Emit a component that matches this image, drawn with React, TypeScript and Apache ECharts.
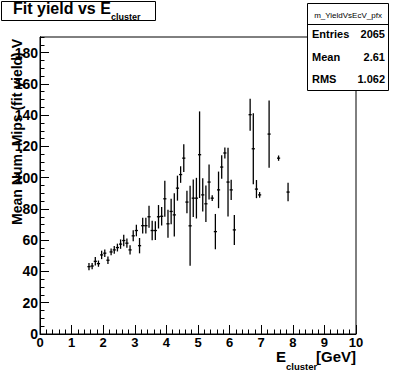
import React, { useEffect, useRef } from "react";
import * as echarts from "echarts";

const binCenters = [
  1.55, 1.65, 1.75, 1.85, 1.95, 2.05, 2.15, 2.25, 2.35, 2.45, 2.55, 2.65, 2.75, 2.85, 2.95, 3.05,
  3.15, 3.25, 3.35, 3.45, 3.55, 3.65, 3.75, 3.85, 3.95, 4.05, 4.15, 4.25, 4.35, 4.45, 4.55, 4.65,
  4.75, 4.85, 4.95, 5.05, 5.15, 5.25, 5.35, 5.45, 5.55, 5.65, 5.75, 5.85, 5.95, 6.05, 6.15,
  6.65, 6.75, 6.85, 6.95, 7.25, 7.55, 7.85,
];
const meanValues = [
  43.1, 43.5, 46.5, 45.0, 50.6, 51.7, 47.2, 52.5, 53.8, 55.3, 57.5, 59.8, 58.1, 53.8, 62.8, 66.2,
  56.5, 69.3, 69.3, 75.0, 66.2, 66.2, 75.0, 75.3, 86.5, 70.5, 78.4, 76.2, 93.3, 102.0, 112.5, 84.4,
  69.2, 86.9, 86.9, 114.7, 89.0, 83.3, 97.2, 86.9, 65.5, 92.2, 106.8, 115.8, 97.2, 92.2, 66.6,
  140.3, 118.5, 92.7, 89.0, 127.9, 112.5, 90.8,
];
const meanErrors = [
  2.3, 2.0, 2.7, 2.0, 2.7, 2.4, 2.4, 2.2, 2.5, 2.5, 3.0, 3.7, 3.0, 3.0, 3.5, 3.7,
  4.9, 5.0, 5.0, 7.0, 6.3, 6.0, 7.5, 5.9, 11.5, 9.0, 8.2, 13.9, 8.0, 5.3, 8.9, 7.2,
  25.6, 12.0, 13.0, 27.7, 10.7, 11.7, 11.2, 1.8, 11.3, 11.7, 7.5, 3.5, 22.0, 6.4, 9.6,
  10.2, 22.7, 5.8, 1.8, 21.5, 1.7, 5.9,
];
const binHalfWidth = 0.05;

const statNames = ["Entries", "Mean", "RMS"];
const statValues = ["2065", "2.61", "1.062"];

const FONT = "'Liberation Sans', Arial, Helvetica, sans-serif";

export default function App() {
  const ref = useRef<HTMLDivElement>(null);
  useEffect(() => {
    if (!ref.current) return;
    const chart = echarts.init(ref.current, null, { renderer: "svg" });
    const data = binCenters.map((x, i) => [x, meanValues[i], meanErrors[i]]);

    const statRows: any[] = [];
    statNames.forEach((n, i) => {
      const cy = 34 + i * 22.7;
      statRows.push({
        type: "text",
        z: 101,
        x: 312,
        y: cy,
        style: { text: n, font: `bold 11px ${FONT}`, fill: "#000", align: "left", verticalAlign: "middle" },
      });
      statRows.push({
        type: "text",
        z: 101,
        x: 385,
        y: cy,
        style: { text: statValues[i], font: `bold 11px ${FONT}`, fill: "#000", align: "right", verticalAlign: "middle" },
      });
    });

    const option: any = {
      animation: false,
      backgroundColor: "#fff",
      grid: {
        left: 40,
        right: 40,
        top: 37,
        bottom: 38,
        show: true,
        borderColor: "#000",
        borderWidth: 1,
        backgroundColor: "transparent",
      },
      xAxis: {
        type: "value",
        min: 0,
        max: 10,
        interval: 1,
        axisLine: { show: true, lineStyle: { color: "#000", width: 1 } },
        axisTick: { show: true, inside: true, length: 9, lineStyle: { color: "#000" } },
        minorTick: { show: true, splitNumber: 5, length: 4.5, lineStyle: { color: "#000" } },
        splitLine: { show: false },
        axisLabel: { color: "#000", fontFamily: FONT, fontWeight: "bold", fontSize: 13, margin: 2 },
      },
      yAxis: [
        {
          type: "value",
          min: 0,
          max: 190,
          interval: 20,
          position: "left",
          axisLine: { show: true, lineStyle: { color: "#000", width: 1 } },
          axisTick: { show: true, inside: true, length: 9, lineStyle: { color: "#000" } },
          splitLine: { show: false },
          axisLabel: {
            color: "#000",
            fontFamily: FONT,
            fontWeight: "bold",
            fontSize: 14,
            margin: 2,
            showMaxLabel: false,
          },
        },
        {
          type: "value",
          min: 0,
          max: 190,
          interval: 5,
          position: "left",
          offset: 0,
          axisLine: { show: true, lineStyle: { color: "#000", width: 1 } },
          axisTick: { show: true, inside: true, length: 4.5, lineStyle: { color: "#000" } },
          splitLine: { show: false },
          axisLabel: { show: false },
        },
      ],
      series: [
        {
          type: "custom",
          xAxisIndex: 0,
          yAxisIndex: 0,
          data,
          renderItem: (params: any, api: any) => {
            const x = api.value(0);
            const y = api.value(1);
            const e = api.value(2);
            const c = api.coord([x, y]);
            const l = api.coord([x - binHalfWidth, y]);
            const r = api.coord([x + binHalfWidth, y]);
            const t = api.coord([x, y + e]);
            const b = api.coord([x, y - e]);
            return {
              type: "group",
              children: [
                {
                  type: "line",
                  shape: { x1: l[0], y1: c[1], x2: r[0], y2: c[1] },
                  style: { stroke: "#000", lineWidth: 1.3 },
                },
                {
                  type: "line",
                  shape: { x1: c[0], y1: t[1], x2: c[0], y2: b[1] },
                  style: { stroke: "#000", lineWidth: 1.3 },
                },
              ],
            };
          },
        },
      ],
      graphic: [
        // title box
        {
          type: "rect",
          z: 100,
          shape: { x: 1.5, y: 1.5, width: 154, height: 19 },
          style: { fill: "#fff", stroke: "#000", lineWidth: 1 },
        },
        {
          type: "text",
          z: 101,
          x: 13,
          y: 8.5,
          style: { text: "Fit yield vs E", font: `bold 16px ${FONT}`, fill: "#000", align: "left", verticalAlign: "middle" },
        },
        {
          type: "text",
          z: 101,
          x: 111,
          y: 16.5,
          style: { text: "cluster", font: `bold 9px ${FONT}`, fill: "#000", align: "left", verticalAlign: "middle" },
        },
        // stat box
        {
          type: "rect",
          z: 100,
          shape: { x: 307.5, y: 3.5, width: 81, height: 87 },
          style: { fill: "#fff", stroke: "#000", lineWidth: 1 },
        },
        {
          type: "line",
          z: 101,
          shape: { x1: 307.5, y1: 24.5, x2: 388.5, y2: 24.5 },
          style: { stroke: "#000", lineWidth: 1 },
        },
        {
          type: "text",
          z: 101,
          x: 348,
          y: 15,
          style: { text: "m_YieldVsEcV_pfx", font: `8px ${FONT}`, fill: "#000", align: "center", verticalAlign: "middle" },
        },
        ...statRows,
        // y axis title
        {
          type: "text",
          z: 101,
          x: 17,
          y: 39,
          rotation: Math.PI / 2,
          style: {
            text: "Mean Num. Mips (fit yield) V",
            font: `bold 14px ${FONT}`,
            fill: "#000",
            align: "right",
            verticalAlign: "middle",
          },
        },
        // x axis title
        {
          type: "text",
          z: 101,
          x: 276,
          y: 356.5,
          style: { text: "E", font: `bold 15px ${FONT}`, fill: "#000", align: "left", verticalAlign: "middle" },
        },
        {
          type: "text",
          z: 101,
          x: 286,
          y: 366,
          style: { text: "cluster", font: `bold 9.5px ${FONT}`, fill: "#000", align: "left", verticalAlign: "middle" },
        },
        {
          type: "text",
          z: 101,
          x: 356,
          y: 356.5,
          style: { text: "[GeV]", font: `bold 15px ${FONT}`, fill: "#000", align: "right", verticalAlign: "middle" },
        },
      ],
    };
    chart.setOption(option);
    return () => chart.dispose();
  }, []);
  return (
    <div
      ref={ref}
      style={{ position: "fixed", left: 0, top: 0, width: 396, height: 372, background: "#fff" }}
    />
  );
}
